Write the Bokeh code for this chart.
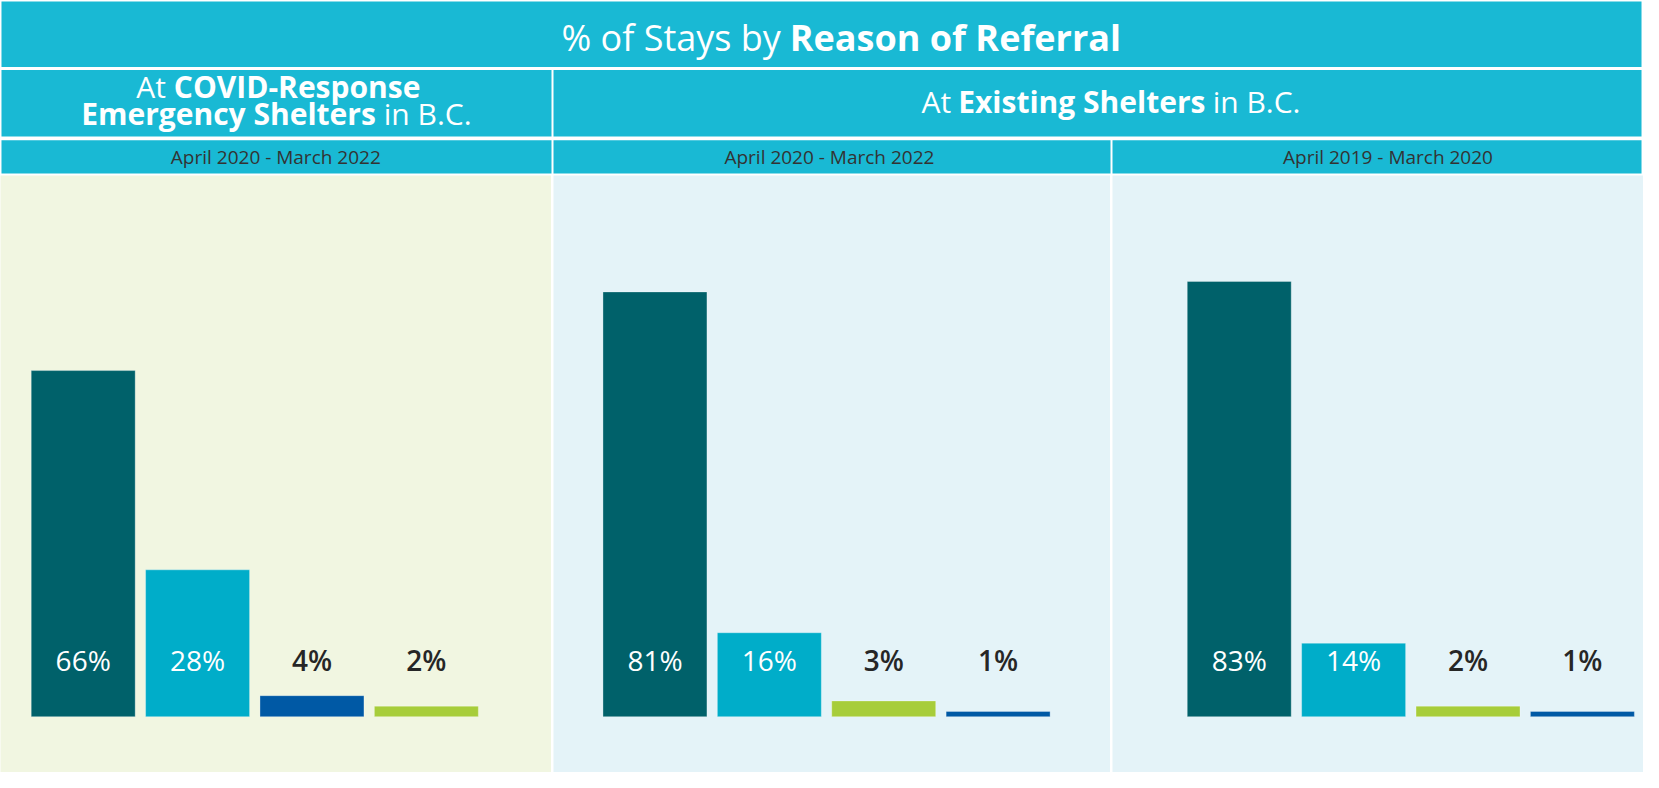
from bokeh.plotting import figure
from bokeh.layouts import column, row
from bokeh.models import Range1d, ColumnDataSource
from bokeh.core.properties import value
from bokeh.embed import file_html
from bokeh.resources import INLINE

# ---------------- data ----------------
title_normal = "% of Stays by"
title_bold = "Reason of Referral"
covid_header = [("At", "COVID-Response"), ("Emergency Shelters", "in B.C.")]
existing_header = ("At", "Existing Shelters", "in B.C.")
periods = ["April 2020 - March 2022", "April 2020 - March 2022", "April 2019 - March 2020"]

covid_2020_2022 = [66, 28, 4, 2]
existing_2020_2022 = [81, 16, 3, 1]
existing_2019_2020 = [83, 14, 2, 1]

# ---------------- styles ----------------
TEAL = "#00616A"
CYAN = "#00ADC9"
BLUE = "#0059A5"
GREEN = "#A7CD3A"
BAND = "#19B9D4"
BG1 = "#F1F6E1"
BG2 = "#E4F3F8"
DARK = "#262626"
FONT = value("Open Sans")
SEMI = value("Open Sans SemiBold, Open Sans")

covid_colors = [TEAL, CYAN, BLUE, GREEN]
existing_colors = [TEAL, CYAN, GREEN, BLUE]

W = 1643
HEADER_H = 175
PANEL_H = 597
GAP = 2
PW = [551, 557, W - 551 - 557 - 2 * GAP]
REF_W = 1659.0
SX = REF_W / W


def panel(values, colors, width, x0, x1, bg):
    p = figure(width=width, height=PANEL_H, x_range=Range1d(x0, x1),
               y_range=Range1d(-10.65, 103.2), output_backend="svg",
               toolbar_location=None, min_border=0)
    p.axis.visible = False
    p.grid.visible = False
    p.background_fill_color = bg
    p.border_fill_color = bg
    p.outline_line_color = None
    xs = list(range(len(values)))
    labels = [f"{v}%" for v in values]
    src = ColumnDataSource(dict(x=xs, top=values, color=colors))
    p.vbar(x="x", top="top", bottom=0, width=0.909, fill_color="color",
           line_color="white", line_alpha=0.3, line_width=1, source=src)
    big = [i for i, v in enumerate(values) if v >= 10]
    small = [i for i, v in enumerate(values) if v < 10]
    p.text(x=[xs[i] for i in big], y=10.8, text=[labels[i] for i in big],
           text_color="white", text_align="center", text_baseline="middle",
           text_font=FONT, text_font_size="28px")
    p.text(x=[xs[i] for i in small], y=10.8, text=[labels[i] for i in small],
           text_color=DARK, text_align="center", text_baseline="middle",
           text_font=SEMI, text_font_size="28px")
    return p


p1 = panel(covid_2020_2022, covid_colors, PW[0], -0.723, -0.723 + PW[0] * SX / 115.5, BG1)
p2 = panel(existing_2020_2022, existing_colors, PW[1], -0.887, -0.887 + PW[1] * SX / 115.5, BG2)
p3 = panel(existing_2019_2020, existing_colors, PW[2], -1.108, -1.108 + PW[2] * SX / 115.5, BG2)

# ---------------- header (reference pixel units) ----------------
h = figure(width=W, height=HEADER_H, x_range=Range1d(0, REF_W), y_range=Range1d(179, 0),
           output_backend="svg", toolbar_location=None, min_border=0)
h.axis.visible = False
h.grid.visible = False
h.background_fill_color = "white"
h.border_fill_color = "white"
h.outline_line_color = None

c1r = PW[0] * SX
c2l = (PW[0] + GAP) * SX
c2r = (PW[0] + GAP + PW[1]) * SX
c3l = (PW[0] + 2 * GAP + PW[1]) * SX
right = REF_W - 2

h.quad(left=[1, 1, c2l, 1, c2l, c3l],
       right=[right, c1r, right, c1r, c2r, right],
       top=[1, 71, 71, 143, 143, 143],
       bottom=[68, 139, 139, 177, 177, 177],
       fill_color=BAND, line_color=None)


def txt(x, y, t, size, align, style="normal", color="white"):
    h.text(x=[x], y=[y], text=[t], text_font=FONT, text_font_size=size,
           text_align=align, text_baseline="middle", text_font_style=style,
           text_color=color)


txt(788, 38, title_normal, "36px", "right")
txt(797, 38, title_bold, "36px", "left", "bold")

txt(167, 88, covid_header[0][0], "30px", "right")
txt(175, 88, covid_header[0][1], "30px", "left", "bold")
txt(379, 116, covid_header[1][0], "30px", "right", "bold")
txt(387, 116, covid_header[1][1], "30px", "left")

txt(960, 103, existing_header[0], "30px", "right")
txt(967, 103, existing_header[1], "30px", "left", "bold")
txt(1224, 103, existing_header[2], "30px", "left")

centers = [278, 837, 1401]
for cx, per in zip(centers, periods):
    txt(cx, 160, per, "19px", "center", "normal", "#333333")

layout = column(h, row(p1, p2, p3, spacing=GAP), spacing=0)
open("out.html", "w").write(file_html(layout, INLINE))
